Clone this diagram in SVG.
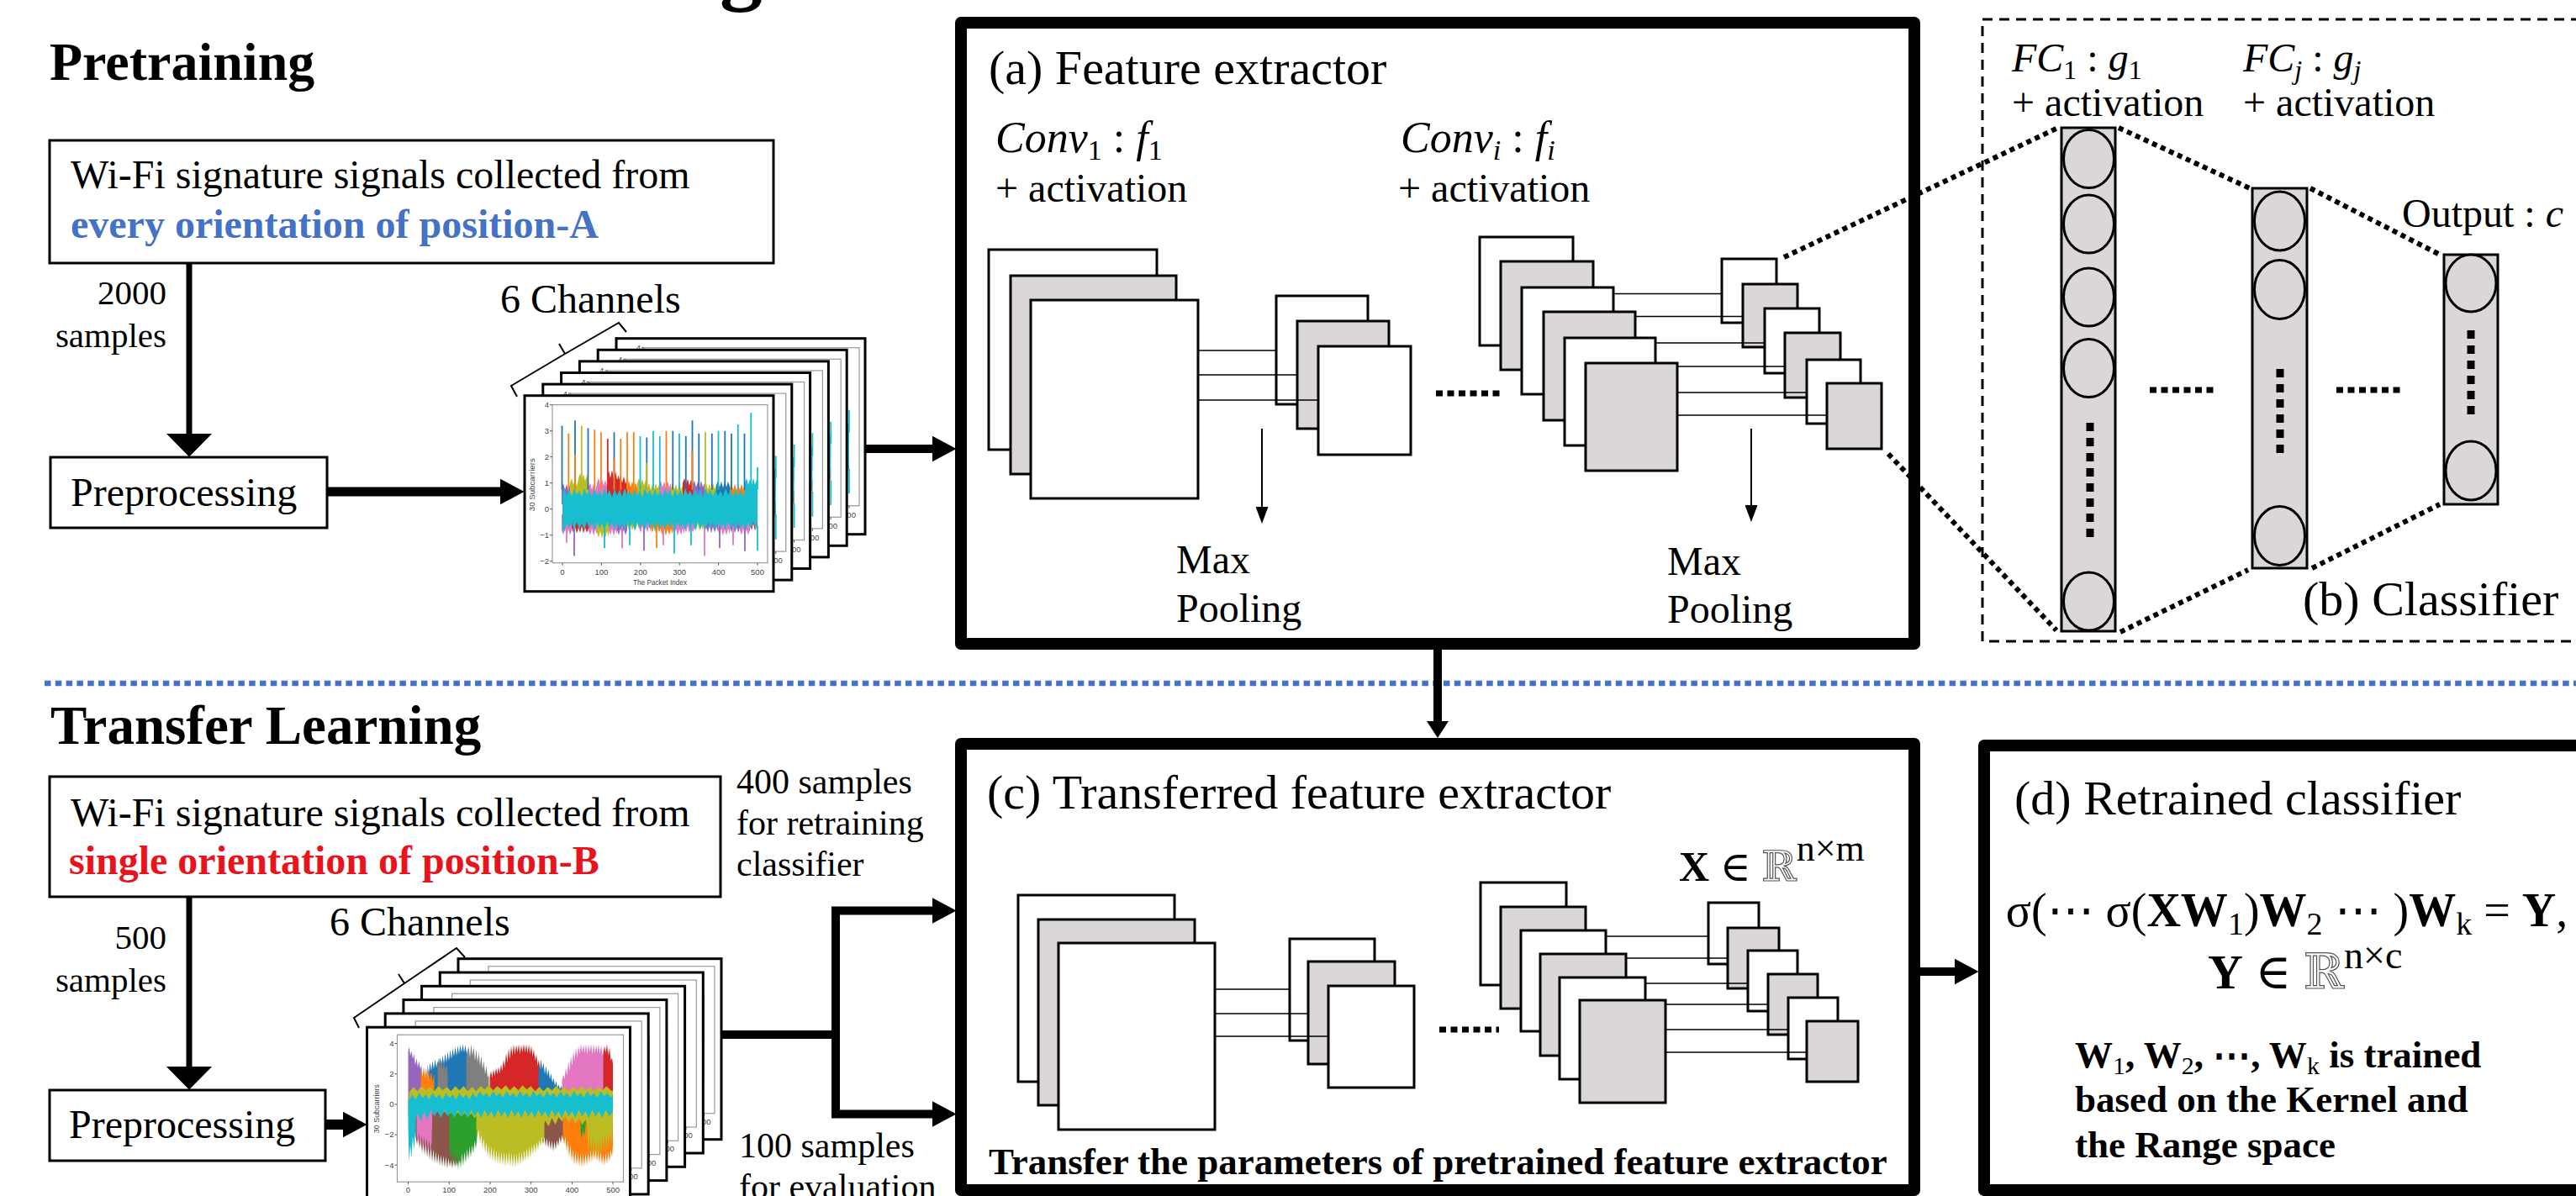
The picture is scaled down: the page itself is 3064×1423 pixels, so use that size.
<svg xmlns="http://www.w3.org/2000/svg" width="3064" height="1423" viewBox="0 0 3064 1423">
<defs>
<style>
.t{font-family:"Liberation Serif","Times New Roman","DejaVu Serif",serif;fill:#000}
.b{font-weight:bold}
.n{font-weight:normal}
.it{font-style:italic}
.blu{fill:#4472c4}
.red{fill:#e8131b}
.dbl{font-family:"DejaVu Serif",serif;fill:#fff;stroke:#555;stroke-width:1.2;font-weight:normal}
.box{fill:#fff;stroke:#000;stroke-width:3}
.panel{fill:#fff;stroke:#000;stroke-width:14;stroke-linejoin:round}
.dash{fill:none;stroke:#000;stroke-width:3;stroke-dasharray:12 8}
.fw{fill:#fff;stroke:#000;stroke-width:3}
.fg{fill:#dad7d6;stroke:#000;stroke-width:3}
.ln{fill:none;stroke:#000;stroke-width:1.6}
.frame{fill:#fff;stroke:#000;stroke-width:3}
.axes{fill:none;stroke:#999;stroke-width:1.2}
.tick{fill:none;stroke:#555;stroke-width:1}
.tk{font-family:"Liberation Sans","DejaVu Sans",sans-serif;font-size:9.5px;fill:#444}
.arr{fill:none;stroke:#000;stroke-linejoin:miter}
.dot{fill:none;stroke:#000;stroke-width:6;stroke-dasharray:6 5}
.hdot{fill:none;stroke:#000;stroke-width:7;stroke-dasharray:8 5.5}
.vdot{fill:none;stroke:#000;stroke-width:9;stroke-dasharray:10 8}
.sep{fill:none;stroke:#4472c4;stroke-width:6.5;stroke-dasharray:7.5 5.3}
.node{fill:#dad7d6;stroke:#000;stroke-width:3}
.c0{fill:#1f77b4}.c1{fill:#ff7f0e}.c2{fill:#2ca02c}.c3{fill:#d62728}.c4{fill:#9467bd}.c5{fill:#8c564b}.c6{fill:#e377c2}.c7{fill:#7f7f7f}.c8{fill:#bcbd22}.c9{fill:#17becf}
.sp{fill:none;stroke-width:1.8}
.s0{stroke:#1f77b4}.s1{stroke:#ff7f0e}.s3{stroke:#d62728}.s4{stroke:#9467bd}.s6{stroke:#e377c2}.s8{stroke:#bcbd22}.s9{stroke:#17becf}
</style>
<marker id="hW" viewBox="0 0 10 10" refX="0.5" refY="5" markerUnits="userSpaceOnUse" markerWidth="28" markerHeight="55" orient="auto" preserveAspectRatio="none"><path d="M0 0L10 5L0 10z"/></marker>
<marker id="hM" viewBox="0 0 10 10" refX="0.5" refY="5" markerUnits="userSpaceOnUse" markerWidth="29" markerHeight="31" orient="auto" preserveAspectRatio="none"><path d="M0 0L10 5L0 10z"/></marker>
<marker id="hV" viewBox="0 0 10 10" refX="0.5" refY="5" markerUnits="userSpaceOnUse" markerWidth="20" markerHeight="26" orient="auto" preserveAspectRatio="none"><path d="M0 0L10 5L0 10z"/></marker>
<marker id="hT" viewBox="0 0 10 10" refX="0.5" refY="5" markerUnits="userSpaceOnUse" markerWidth="20" markerHeight="15" orient="auto" preserveAspectRatio="none"><path d="M0 0L10 5L0 10z"/></marker>

<!-- CSI amplitude plot, every orientation of position A (296 x 233) -->
<g id="plotA">
<rect class="frame" width="296" height="233"/>
<rect class="axes" x="33" y="11" width="256" height="188"/>
<path class="tick" d="M30 11h3M30 42h3M30 73h3M30 104h3M30 135h3M30 166h3M30 197h3M45 199v3M91.4 199v3M137.8 199v3M184.2 199v3M230.6 199v3M277 199v3"/>
<g class="tk" text-anchor="end"><text x="29" y="14.5">4</text><text x="29" y="45.5">3</text><text x="29" y="76.5">2</text><text x="29" y="107.5">1</text><text x="29" y="138.5">0</text><text x="29" y="169.5">−1</text><text x="29" y="200.5">−2</text></g>
<g class="tk" text-anchor="middle"><text x="45" y="213">0</text><text x="91.4" y="213">100</text><text x="137.8" y="213">200</text><text x="184.2" y="213">300</text><text x="230.6" y="213">400</text><text x="277" y="213">500</text><text x="161" y="225" textLength="64" lengthAdjust="spacingAndGlyphs">The Packet Index</text></g>
<text class="tk" text-anchor="middle" transform="translate(12 106) rotate(-90)" textLength="63" lengthAdjust="spacingAndGlyphs">30 Subcarriers</text>
<path class="c4" d="M44 129V110L46 104L48 112L50 105L52 113L54 106V129ZM200 129V106L202 101L204 109L206 102L208 110L210 101L212 109L214 104V129Z"/>
<path class="c8" d="M54 129V104L56 98L58 106L60 99L62 108L64 100V129ZM64 129V98L66 92L68 101L70 93L72 102L74 94L76 104V129ZM134 129V104L136 98L138 106L140 99L142 107L144 100L146 108V129ZM146 129V110L148 104L150 112L152 105L154 112L156 104L158 111L160 106V129ZM174 129V110L176 104L178 112L180 105L182 113L184 104L186 112L188 107V129ZM214 129V110L216 104L218 112L220 105L222 112L224 104L226 111L228 106V129Z"/>
<path class="c6" d="M76 129V108L78 104L80 112L82 105L84 113L86 106V129ZM86 129V104L88 98L90 106L92 99L94 107L96 100L98 108V129ZM160 129V106L162 101L164 109L166 102L168 110L170 101L172 109L174 104V129Z"/>
<path class="c3" d="M98 129V96L100 89L102 98L104 88L106 99L108 90L110 100L112 94V129ZM112 129V100L114 95L116 104L118 96L120 105L122 99V129ZM188 129V104L190 98L192 106L194 99L196 107L198 100L200 108V129Z"/>
<path class="c1" d="M122 129V106L124 101L126 109L128 102L130 110L132 103L134 110V129ZM244 129V110L246 104L248 112L250 105L252 113L254 104L256 112L258 105L260 112L262 106V129Z"/>
<path class="c0" d="M228 129V106L230 101L232 109L234 102L236 110L238 101L240 109L242 102L244 108V129Z"/>
<path class="c9" d="M262 129V104L264 98L266 106L268 99L270 107L272 98L274 106L276 100L277 104V129Z"/>
<path class="c6" d="M44 141V160L46 166L48 158L50 167L52 159L54 166L56 160V141ZM76 141V160L78 166L80 158L82 167L84 159L86 165V141ZM100 141V160L102 166L104 158L106 167L108 159L110 165V141ZM136 141V157L138 163L140 155L142 164L144 156L146 163L148 155L150 162V141ZM176 141V160L178 166L180 158L182 167L184 159L186 166L188 158L190 165V141ZM190 141V157L192 163L194 155L196 164L198 156L200 163L202 157V141ZM230 141V160L232 166L234 158L236 167L238 159L240 166L242 158L244 165V141ZM256 141V160L258 166L260 158L262 167L264 159L266 166L268 160V141Z"/>
<path class="c3" d="M56 141V157L58 163L60 156L62 164L64 157L66 163L68 155L70 164L72 157L74 163L76 158V141ZM268 141V154L270 160L272 152L274 161L276 153L277 158V141Z"/>
<path class="c8" d="M86 141V162L88 169L90 161L92 170L94 162L96 169L98 161L100 168V141ZM122 141V154L124 160L126 152L128 161L130 153L132 160L134 152L136 159V141ZM202 141V154L204 160L206 152L208 161L210 153L212 160L214 152L216 159V141Z"/>
<path class="c4" d="M110 141V160L112 166L114 158L116 167L118 159L120 166L122 160V141ZM216 141V157L218 163L220 155L222 164L224 156L226 163L228 155L230 162V141ZM244 141V157L246 163L248 155L250 164L252 156L254 163L256 157V141Z"/>
<path class="c1" d="M150 141V157L152 163L154 155L156 164L158 156L160 163L162 157V141ZM162 141V160L164 166L166 158L168 167L170 159L172 166L174 158L176 165V141Z"/>
<path class="sp s0" d="M44.5 112V35.8M60 112V29.6M75.5 112V38.9M106.5 112V43.6M145.3 112V49.8M176.3 112V42M191.8 112V48.2M199.5 112V29.6M207.3 112V45.1M222.8 112V45.1M238.3 112V42M246 112V45.1M261.5 112V45.1"/>
<path class="sp s1" d="M52.3 112V45.1M83.3 112V40.5M91 112V43.6M114.3 112V51.3M122 112V43.6M129.8 112V43.6M168.5 112V42M60 112V70M106.5 112V75M199.5 112V66"/>
<path class="sp s8" d="M67.8 112V35.8M215 112V43.6M145.3 112V80"/>
<path class="sp s3" d="M98.8 112V51.3"/>
<path class="sp s9" d="M137.5 112V48.2M153 112V42M160.8 112V48.2M184 112V45.1M230.5 112V42M253.8 112V34.3M269.3 112V20.3M277 112V85.4"/>
<path class="sp s6" d="M50 155V175M116 155V181.5M165 155V178M214 155V190.8M248 155V178"/>
<path class="sp s4" d="M59 155V190.8M142 155V184.6M232 155V181.5M262 155V185"/>
<path class="sp s9" d="M95 155V181.5M125 155V178M178 155V187.7M198 155V178M277 155V184.6"/>
<path class="sp s1" d="M157 155V181"/>
<path class="c9" d="M45 118L47 110L50 119L53 112L56 120L59 111L62 118L65 113L68 121L71 110L74 118L77 112L80 120L83 111L86 119L89 113L92 120L95 110L98 118L101 112L104 121L107 111L110 119L113 112L116 120L119 110L122 118L125 113L128 120L131 111L134 119L137 112L140 121L143 110L146 118L149 112L152 120L155 111L158 119L161 113L164 120L167 110L170 118L173 112L176 121L179 111L182 119L185 112L188 120L191 110L194 118L197 113L200 120L203 111L206 119L209 112L212 121L215 110L218 118L221 112L224 120L227 111L230 119L233 113L236 120L239 110L242 118L245 112L248 121L251 111L254 119L257 112L260 120L263 110L266 116L269 108L272 116L275 106L277 112V150L275 160L272 150L269 158L266 151L263 160L260 152L257 159L254 150L251 161L248 151L245 158L242 150L239 160L236 152L233 158L230 150L227 161L224 151L221 158L218 150L215 160L212 152L209 159L206 150L203 161L200 151L197 158L194 150L191 160L188 152L185 158L182 150L179 161L176 151L173 158L170 150L167 160L164 152L161 159L158 150L155 161L152 151L149 158L146 150L143 160L140 152L137 158L134 150L131 161L128 151L125 158L122 150L119 160L116 152L113 159L110 150L107 161L104 151L101 158L98 150L95 160L92 152L89 158L86 150L83 161L80 151L77 158L74 150L71 160L68 152L65 159L62 150L59 161L56 151L53 158L50 152L47 163L45 158Z"/>
</g>

<!-- CSI amplitude plot, single orientation of position B (313 x 215) -->
<g id="plotB">
<rect class="frame" width="313" height="215"/>
<rect class="axes" x="36" y="9" width="269" height="175"/>
<path class="tick" d="M33 19.4h3M33 55.5h3M33 91.7h3M33 127.9h3M33 164h3M49 184v3M97.7 184v3M146.4 184v3M195.2 184v3M243.9 184v3M292.6 184v3"/>
<g class="tk" text-anchor="end"><text x="32" y="23">4</text><text x="32" y="59">2</text><text x="32" y="95">0</text><text x="32" y="131">−2</text><text x="32" y="167.5">−4</text></g>
<g class="tk" text-anchor="middle"><text x="49" y="197">0</text><text x="97.7" y="197">100</text><text x="146.4" y="197">200</text><text x="195.2" y="197">300</text><text x="243.9" y="197">400</text><text x="292.6" y="197">500</text><text x="171" y="209" textLength="66" lengthAdjust="spacingAndGlyphs">The Packet Index</text></g>
<text class="tk" text-anchor="middle" transform="translate(14 97) rotate(-90)" textLength="58" lengthAdjust="spacingAndGlyphs">30 Subcarriers</text>
<path class="c4" d="M49 91.7V30L50 23L51.5 34L53 28L54.5 38L56 32L57.5 45L59 37L60.5 48L62 40L63.5 50L65 45L66 91.7Z"/>
<path class="c0" d="M72 91.7V44L73.5 55L75 42L76.5 52L78 40L79.5 50L81 38L82.5 48L84 40L85.5 52L87 35L88.5 46L90 33L91.5 44L93 31L94.5 42L96 29L97.5 40L99 27L100.5 38L102 25L103.5 35L105 23L106.5 34L108 22L109.5 32L111 21L112.5 30L114 20L115.5 30L117 21L118.5 32L120 24V91.7Z"/>
<path class="c1" d="M64 91.7V50L66 58L67.5 47L69 60L70.5 48L72 62L73.5 50L75 63L76.5 52L78 65L80 55V91.7Z"/>
<path class="c7" d="M84 91.7V45L85.5 36L87 48L88.5 38L90 50L91.5 40L93 52L94.5 44L96 55V91.7ZM118 91.7V28L119.5 40L121 22L122.5 36L124 20L125.5 34L127 23L128.5 40L130 26L131.5 42L133 30L134.5 46L136 34L137.5 50L139 40L140.5 56L142 46L143.5 60L145 56V91.7Z"/>
<path class="c3" d="M146 91.7V60L147.5 52L149 60L150.5 50L152 58L153.5 48L155 56L156.5 47L158 55L159.5 44L161 52L162.5 38L164 48L165.5 30L167 42L168.5 25L170 38L171.5 22L173 34L174.5 20L176 32L177.5 21L179 30L180.5 20L182 32L183.5 21L185 30L186.5 19.5L188 30L189.5 20L191 31L192.5 20L194 32L195.5 22L197 35L198.5 26L200 40L201.5 32L203 46L204.5 38L206 52V91.7Z"/>
<path class="c0" d="M204 91.7V40L205.5 52L207 38L208.5 50L210 42L211.5 56L213 46L214.5 58L216 50L217.5 62L219 55L220.5 66L222 60L223.5 70L225 64L226.5 72L228 68L229.5 74L231 70L233 76L234 91.7Z"/>
<path class="c6" d="M232 91.7V64L233.5 56L235 62L236.5 48L238 58L239.5 40L241 52L242.5 34L244 46L245.5 28L247 40L248.5 24L250 36L251.5 22L253 32L254.5 20L256 30L257.5 21L259 31L260.5 20L262 32L263.5 20L265 30L266.5 19.5L268 32L269.5 20L271 31L272.5 21L274 30L275.5 20L277 32L278.5 21L280 34L281.5 24L283 38L284.5 30L286 40L287.5 28L289 42L290.5 38L292.5 50V91.7Z"/>
<path class="c3" d="M281 91.7V36L282.5 22L284 30L285.5 20L287 34L288.5 24L290 40L291.5 36L292.5 44V91.7Z"/>
<path class="c9" d="M49 91.7V120L50 160L51.5 140L53 155L54.5 130L56 145L57.5 125L59 135L60 91.7Z"/>
<path class="c5" d="M58 91.7V130L59.5 140L61 128L62.5 145L64 132L65.5 150L67 136L68.5 152L70 138L71.5 155L73 140L74.5 158L76 142L77.5 160L79 145L80.5 162L82 148L83.5 163L85 150L86.5 165L88 152L89.5 166L91 153L92.5 167L94 154L95.5 168L97 156L98.5 166L100 158L101.5 168L103 156L104.5 166L106 158L107.5 165L109 155L110.5 162L112 150V91.7ZM205 91.7V130L206.5 138L208 128L209.5 140L211 130L212.5 142L214 132L215.5 144L217 134L218.5 146L220 135L221.5 148L223 136L224.5 146L226 134L227.5 142L229 130L230.5 138L232 128L233.5 134L234 91.7Z"/>
<path class="c6" d="M59 91.7V125L60.5 138L62 126L63.5 142L65 128L66.5 145L68 130L69.5 146L71 132L72.5 147L74 134L75.5 148L77 136L78 91.7Z"/>
<path class="c2" d="M98 91.7V140L99.5 160L101 145L102.5 165L104 148L105.5 168L107 150L108.5 170L110 152L111.5 168L113 150L114.5 165L116 148L117.5 162L119 145L120.5 158L122 142L123.5 155L125 140L126.5 150L128 135L129.5 145L131 130L132 91.7Z"/>
<path class="c8" d="M130 91.7V120L131.5 130L133 122L134.5 138L136 128L137.5 145L139 132L140.5 150L142 136L143.5 155L145 140L146.5 158L148 142L149.5 160L151 144L152.5 162L154 146L155.5 163L157 147L158.5 164L160 148L161.5 165L163 148L164.5 166L166 149L167.5 165L169 148L170.5 166L172 150L173.5 167L175 150L176.5 168L178 150L179.5 166L181 148L182.5 164L184 148L185.5 162L187 146L188.5 160L190 144L191.5 158L193 142L194.5 156L196 140L197.5 152L199 138L200.5 150L202 136L203.5 146L205 134L206.5 142L208 130L209.5 138L211 128V91.7Z"/>
<path class="c1" d="M233 91.7V128L234.5 140L236 130L237.5 148L239 134L240.5 155L242 140L243.5 160L245 145L246.5 164L248 148L249.5 165L251 150L252.5 166L254 150L255.5 167L257 150L258.5 166L260 150L261.5 165L263 148L264.5 162L266 146L267.5 160L269 145L270.5 158L272 144L273.5 160L275 146L276.5 162L278 148L279.5 164L281 150L282.5 165L284 150L285.5 163L287 148L288.5 160L290 146L291.5 155L292.5 140V91.7Z"/>
<path class="c8" d="M262 91.7V120L263.5 150L265 126L266.5 154L268 130L269.5 156L271 132L272.5 158L274 134L275.5 156L277 132L278.5 152L280 130L281.5 150L283 128L284.5 148L286 126L287.5 146L289 124L290.5 140L292 122V91.7Z"/>
<path class="c2" d="M254 91.7V125L255.5 132L257 122L258.5 130L260 118L261 91.7Z"/>
<path class="c8" d="M50 78L55 71L60 76L65 70L70 75L75 71L80 76L85 70L90 75L95 71L100 76L105 70L110 75L115 70L120 76L125 71L130 76L135 70L140 74L145 69L150 75L155 70L160 74L165 69L170 75L175 70L180 75L185 69L190 74L195 70L200 76L205 71L210 76L215 71L220 75L225 70L230 75L235 71L240 76L245 71L250 75L255 70L260 75L265 71L270 76L275 71L280 75L285 70L290 75L292.5 76V112L288 118L284 108L280 116L276 110L272 119L268 111L264 118L260 110L256 116L252 108L248 115L244 107L240 113L236 106L232 112L228 107L224 116L220 108L216 118L212 111L208 119L204 111L200 120L196 112L192 119L188 111L184 118L180 110L176 116L172 108L168 115L164 108L160 113L156 106L152 112L148 105L144 110L140 104L136 109L132 103L128 108L124 102L120 107L116 102L112 106L108 101L104 106L100 101L96 105L92 100L88 105L84 100L80 103L76 98L72 103L68 98L64 102L60 98L55 103L50 100Z"/>
<path class="c9" d="M49 88L54 80L58 86L62 78L66 84L70 80L74 86L78 78L82 84L86 80L90 86L94 78L98 84L102 80L106 86L110 78L114 84L118 80L122 86L126 78L130 84L134 76L138 82L142 78L146 84L150 76L154 82L158 78L162 84L166 76L170 82L174 78L178 84L182 76L186 82L190 78L194 84L198 76L202 82L206 78L210 84L214 76L218 82L222 78L226 84L230 76L234 82L238 78L242 84L246 76L250 82L254 78L258 84L262 76L266 82L270 78L274 84L278 76L282 82L286 78L290 84L292.5 80V100L288 106L284 98L280 108L276 100L272 106L268 98L264 108L260 100L256 106L252 98L248 108L244 100L240 106L236 98L232 108L228 100L224 106L220 98L216 108L212 100L208 106L204 98L200 108L196 100L192 106L188 98L184 108L180 100L176 106L172 98L168 108L164 100L160 106L156 98L152 108L148 100L144 106L140 98L136 108L132 100L128 106L124 98L120 108L116 100L112 106L108 98L104 108L100 100L96 106L92 98L88 108L84 100L80 106L76 98L72 110L68 100L64 112L60 102L56 116L52 106L50 130L49 100Z"/>
</g>
</defs>

<rect width="3064" height="1423" fill="#fff"/>

<!-- section titles -->
<g id="titles">
<text class="t b" x="856" y="-7" font-size="102">g</text>
<text class="t b" x="59" y="95" font-size="64">Pretraining</text>
<text class="t b" x="60" y="885" font-size="65">Transfer Learning</text>
</g>

<!-- section divider -->
<path id="divider" class="sep" d="M53 813H3064"/>

<!-- ===== Pretraining ===== -->
<g id="source-a">
<rect class="box" x="59" y="167" width="861" height="146"/>
<text class="t" x="84" y="224" font-size="48">Wi-Fi signature signals collected from</text>
<text class="t b blu" x="84" y="283" font-size="48">every orientation of position-A</text>
</g>
<g id="count-a" class="t" font-size="41" text-anchor="end">
<text x="198" y="362">2000</text>
<text x="198" y="413">samples</text>
</g>
<g id="prep-a">
<rect class="box" x="60" y="544" width="329" height="84"/>
<text class="t" x="84" y="602" font-size="48">Preprocessing</text>
</g>
<g id="channels-a">
<text class="t" x="595" y="372" font-size="48">6 Channels</text>
<path fill="none" stroke="#000" stroke-width="2" d="M615 472L608 459L672 421L665 409M672 421L736 384L745 395"/>
<use href="#plotA" x="733" y="402.7"/>
<use href="#plotA" x="711.2" y="416.3"/>
<use href="#plotA" x="689.4" y="429.9"/>
<use href="#plotA" x="667.6" y="443.5"/>
<use href="#plotA" x="645.8" y="457.1"/>
<use href="#plotA" x="624" y="470.7"/>
</g>

<g id="feature-extractor">
<rect class="panel" x="1143" y="27" width="1134" height="739"/>
<text class="t" x="1176" y="100" font-size="58">(a) Feature extractor</text>
<text class="t" x="1184" y="181" font-size="52"><tspan class="it">Conv</tspan><tspan font-size="34" dy="9">1</tspan><tspan dy="-9"> : </tspan><tspan class="it">f</tspan><tspan font-size="34" dy="9">1</tspan></text>
<text class="t" x="1184" y="240" font-size="48">+ activation</text>
<text class="t" x="1666" y="181" font-size="52"><tspan class="it">Conv</tspan><tspan class="it" font-size="34" dy="9">i</tspan><tspan dy="-9"> : </tspan><tspan class="it">f</tspan><tspan class="it" font-size="34" dy="9">i</tspan></text>
<text class="t" x="1663" y="240" font-size="48">+ activation</text>
<rect class="fw" x="1176" y="297" width="200" height="238"/>
<rect class="fg" x="1202" y="328" width="197" height="236"/>
<rect class="fw" x="1226" y="357" width="199" height="236"/>
<rect class="fw" x="1518" y="352" width="109" height="129"/>
<rect class="fg" x="1543" y="382" width="109" height="128"/>
<rect class="fw" x="1568" y="412" width="110" height="129"/>
<path class="ln" d="M1425 417H1518M1425 446H1543M1425 476H1568"/>
<path class="hdot" d="M1708 468H1786"/>
<rect class="fw" x="1760" y="282" width="111" height="129"/>
<rect class="fg" x="1785" y="311" width="110" height="129"/>
<rect class="fw" x="1810" y="342" width="109" height="127"/>
<rect class="fg" x="1836" y="371" width="109" height="129"/>
<rect class="fw" x="1861" y="402" width="108" height="128"/>
<rect class="fg" x="1886" y="432" width="109" height="128"/>
<rect class="fw" x="2048" y="308" width="65" height="76"/>
<rect class="fg" x="2073" y="338" width="65" height="75"/>
<rect class="fw" x="2099" y="367" width="65" height="77"/>
<rect class="fg" x="2123" y="396" width="66" height="77"/>
<rect class="fw" x="2149" y="428" width="64" height="76"/>
<rect class="fg" x="2173" y="456" width="65" height="78"/>
<path class="ln" d="M1919 349.5H2048M1945 376.5H2073M1969 408H2099M1995 436H2123M1995 467H2149M1995 494H2173"/>
<text class="t" x="1399" y="682" font-size="48">Max</text>
<text class="t" x="1399" y="740" font-size="48">Pooling</text>
<text class="t" x="1983" y="684" font-size="48">Max</text>
<text class="t" x="1983" y="741" font-size="48">Pooling</text>
</g>

<g id="classifier">
<rect class="dash" x="2358" y="23" width="760" height="740"/>
<text class="t" x="2393" y="85" font-size="48"><tspan class="it">FC</tspan><tspan font-size="32" dy="9">1</tspan><tspan dy="-9"> : </tspan><tspan class="it">g</tspan><tspan font-size="32" dy="9">1</tspan></text>
<text class="t" x="2393" y="138" font-size="48">+ activation</text>
<text class="t" x="2668" y="85" font-size="48"><tspan class="it">FC</tspan><tspan class="it" font-size="32" dy="9">j</tspan><tspan dy="-9"> : </tspan><tspan class="it">g</tspan><tspan class="it" font-size="32" dy="9">j</tspan></text>
<text class="t" x="2668" y="138" font-size="48">+ activation</text>
<text class="t" x="2857" y="270" font-size="48">Output : <tspan class="it">c</tspan></text>
<rect class="node" x="2452" y="152" width="64" height="599"/>
<ellipse class="node" cx="2484.5" cy="189" rx="30" ry="34.5"/>
<ellipse class="node" cx="2484.5" cy="266.5" rx="30" ry="34.5"/>
<ellipse class="node" cx="2484.5" cy="353.5" rx="30" ry="34.5"/>
<ellipse class="node" cx="2484.5" cy="438" rx="30" ry="34.5"/>
<ellipse class="node" cx="2484.5" cy="715.5" rx="30" ry="34.5"/>
<path class="vdot" d="M2486 503V639"/>
<rect class="node" x="2679" y="224" width="65" height="452"/>
<ellipse class="node" cx="2711.5" cy="263" rx="30" ry="35"/>
<ellipse class="node" cx="2711.5" cy="344.5" rx="30" ry="35"/>
<ellipse class="node" cx="2711.5" cy="637.5" rx="30" ry="35"/>
<path class="vdot" d="M2712 439V539"/>
<rect class="node" x="2907" y="303" width="64" height="297"/>
<ellipse class="node" cx="2939" cy="337" rx="30" ry="34"/>
<ellipse class="node" cx="2939" cy="560" rx="30" ry="35"/>
<path class="vdot" d="M2939 393V493"/>
<path class="hdot" d="M2557 464H2636M2779 464H2860"/>
<text class="t" x="2739" y="732" font-size="58">(b) Classifier</text>
</g>

<!-- ===== Transfer learning ===== -->
<g id="source-b">
<rect class="box" x="59" y="924" width="798" height="143"/>
<text class="t" x="84" y="983" font-size="48">Wi-Fi signature signals collected from</text>
<text class="t b red" x="82" y="1040" font-size="48">single orientation of position-B</text>
</g>
<g id="count-b" class="t" font-size="41" text-anchor="end">
<text x="198" y="1129">500</text>
<text x="198" y="1180">samples</text>
</g>
<g id="split-labels" class="t" font-size="42">
<text x="876" y="944">400 samples</text>
<text x="876" y="993">for retraining</text>
<text x="876" y="1042">classifier</text>
<text x="879" y="1377">100 samples</text>
<text x="879" y="1426">for evaluation</text>
</g>
<g id="prep-b">
<rect class="box" x="59" y="1297" width="328" height="84"/>
<text class="t" x="82" y="1354" font-size="48">Preprocessing</text>
</g>
<g id="channels-b">
<text class="t" x="392" y="1113" font-size="48">6 Channels</text>
<path fill="none" stroke="#000" stroke-width="2" d="M427 1223L421 1211L481 1170L474 1159M481 1170L543 1128L553 1139"/>
<use href="#plotB" x="545" y="1140.7"/>
<use href="#plotB" x="523.3" y="1157"/>
<use href="#plotB" x="501.6" y="1173.3"/>
<use href="#plotB" x="479.9" y="1189.6"/>
<use href="#plotB" x="458.2" y="1205.9"/>
<use href="#plotB" x="436.5" y="1222.2"/>
</g>

<g id="transferred-extractor">
<rect class="panel" x="1143" y="885" width="1134" height="531"/>
<text class="t" x="1174" y="962" font-size="58">(c) Transferred feature extractor</text>
<text class="t" x="1997" y="1048" font-size="50"><tspan class="b">X</tspan> ∈ <tspan class="dbl">ℝ</tspan><tspan font-size="44" dy="-24">n×m</tspan></text>
<rect class="fw" x="1211" y="1065" width="186" height="222"/>
<rect class="fg" x="1235" y="1094" width="186" height="221"/>
<rect class="fw" x="1259" y="1122" width="186" height="222"/>
<rect class="fw" x="1534" y="1117" width="101" height="121"/>
<rect class="fg" x="1556" y="1144" width="103" height="122"/>
<rect class="fw" x="1580" y="1173" width="102" height="121"/>
<path class="ln" d="M1445 1177H1534M1445 1206H1556M1445 1233H1580"/>
<path class="hdot" d="M1712 1225H1783"/>
<rect class="fw" x="1761" y="1050" width="102" height="122"/>
<rect class="fg" x="1785" y="1079" width="101" height="121"/>
<rect class="fw" x="1809" y="1107" width="101" height="120"/>
<rect class="fg" x="1832" y="1135" width="102" height="121"/>
<rect class="fw" x="1855" y="1163" width="102" height="121"/>
<rect class="fg" x="1879" y="1190" width="102" height="122"/>
<rect class="fw" x="2032" y="1074" width="60" height="73"/>
<rect class="fg" x="2055" y="1104" width="61" height="72"/>
<rect class="fw" x="2079" y="1131" width="59" height="72"/>
<rect class="fg" x="2103" y="1159" width="59" height="72"/>
<rect class="fw" x="2127" y="1187" width="59" height="73"/>
<rect class="fg" x="2149" y="1215" width="61" height="72"/>
<path class="ln" d="M1910 1114H2032M1934 1140H2055M1957 1170H2079M1981 1195H2103M1981 1225H2127M1981 1252H2149"/>
<text class="t b" x="1176" y="1397" font-size="45">Transfer the parameters of pretrained feature extractor</text>
</g>

<g id="retrained-classifier">
<rect class="panel" x="2360" y="887" width="800" height="529"/>
<text class="t" x="2396" y="969" font-size="58">(d) Retrained classifier</text>
<text class="t" x="2720" y="1102" font-size="56" text-anchor="middle">σ(⋯ σ(<tspan class="b">XW</tspan><tspan font-size="38" dy="10">1</tspan><tspan dy="-10">)</tspan><tspan class="b">W</tspan><tspan font-size="38" dy="10">2</tspan><tspan dy="-10"> ⋯ )</tspan><tspan class="b">W</tspan><tspan font-size="38" dy="10">k</tspan><tspan dy="-10"> = </tspan><tspan class="b">Y</tspan>,</text>
<text class="t" x="2626" y="1176" font-size="58"><tspan class="b">Y</tspan> ∈ <tspan class="dbl">ℝ</tspan><tspan font-size="46" dy="-24">n×c</tspan></text>
<text class="t b" x="2468" y="1270" font-size="45">W<tspan class="n" font-size="30" dy="8">1</tspan><tspan dy="-8">, W</tspan><tspan class="n" font-size="30" dy="8">2</tspan><tspan dy="-8">, ⋯, W</tspan><tspan class="n" font-size="30" dy="8">k</tspan><tspan dy="-8"> is trained</tspan></text>
<text class="t b" x="2468" y="1323" font-size="45">based on the Kernel and</text>
<text class="t b" x="2468" y="1377" font-size="45">the Range space</text>
</g>

<!-- connectors -->
<g id="connectors">
<path class="arr" stroke-width="7" d="M225 313V517" marker-end="url(#hW)"/>
<path class="arr" stroke-width="11" d="M389 585H596" marker-end="url(#hM)"/>
<path class="arr" stroke-width="10" d="M1029 534H1110" marker-end="url(#hM)"/>
<path class="arr" stroke-width="10" d="M1710 773V859" marker-end="url(#hV)"/>
<path class="arr" stroke-width="2" d="M1501 510V604" marker-end="url(#hT)"/>
<path class="arr" stroke-width="2" d="M2083 510V602" marker-end="url(#hT)"/>
<path class="dot" d="M2122 306L2448 152M2520 152L2676 224M2748 224L2904 304"/>
<path class="dot" d="M2246 540L2446 750M2522 752L2674 678M2750 676L2902 600"/>
<path class="arr" stroke-width="7" d="M225 1067V1270" marker-end="url(#hW)"/>
<path class="arr" stroke-width="12" d="M387 1338H409" marker-end="url(#hM)"/>
<path class="arr" stroke-width="10" d="M857 1231H994V1083.5H1110" marker-end="url(#hM)"/>
<path class="arr" stroke-width="10" d="M994 1231V1325.5H1110" marker-end="url(#hM)"/>
<path class="arr" stroke-width="10" d="M2284 1156H2326" marker-end="url(#hM)"/>
</g>
</svg>
